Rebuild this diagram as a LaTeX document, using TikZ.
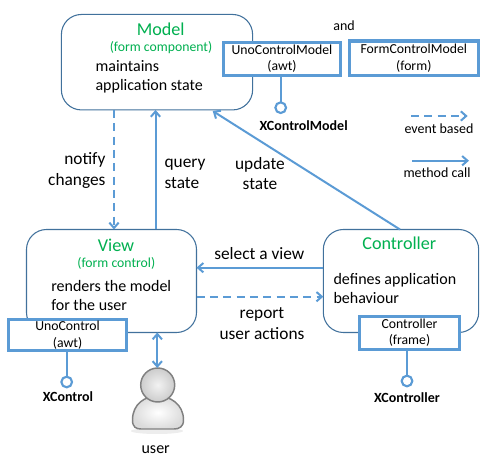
\documentclass[tikz,border=0pt]{standalone}
\usepackage{fontspec}
\setmainfont{Carlito}
\usetikzlibrary{arrows.meta}
\definecolor{boxline}{HTML}{41719C}
\definecolor{linkblue}{HTML}{5B9BD5}
\definecolor{titlegreen}{HTML}{00B050}
\tikzset{
    part/.style={draw=boxline,line width=0.8pt,rounded corners=15pt,fill=white,outer sep=0pt},
    api/.style={draw=linkblue,line width=2.4pt,fill=white,align=center,inner sep=0pt,outer sep=0pt,
        font=\fontsize{10.3}{12.5}\selectfont},
    title/.style={text=titlegreen,font=\fontsize{13.6}{16}\selectfont,inner sep=0pt},
    subtitle/.style={text=titlegreen,font=\fontsize{10.3}{12}\selectfont,inner sep=0pt},
    body/.style={anchor=west,align=left,inner sep=0pt,font=\fontsize{12}{14.25}\selectfont},
    lbl/.style={align=center,inner sep=0pt,font=\fontsize{13}{15.6}\selectfont},
    small/.style={inner sep=0pt,font=\fontsize{10.5}{12}\selectfont},
    iface/.style={inner sep=0pt,font=\fontsize{10.5}{12}\selectfont\bfseries},
    lolly/.style={draw=linkblue,line width=1.6pt,circle,fill=white,minimum size=8pt,inner sep=0pt,outer sep=0pt},
    stem/.style={draw=linkblue,line width=1.6pt},
    call/.style={draw=linkblue,line width=1.5pt,-{Straight Barb[length=4pt,width=7pt]}},
    event/.style={call,dash pattern=on 6pt off 4pt}
}
\begin{document}
\begin{tikzpicture}[x=0.75pt,y=-0.75pt]
    \useasboundingbox (0,0) rectangle (493,466);

    \node[part,minimum width=143.4pt,minimum height=71.6pt] (model) at (157,62.2) {};
    \node[part,minimum width=127.5pt,minimum height=77.25pt] (view) at (111.5,281) {};
    \node[part,minimum width=116.5pt,minimum height=77.25pt] (controller) at (401,281) {};

    \node[api,minimum width=87.75pt,minimum height=25pt] (unomodel) at (282,58.8) {UnoControlModel\\(awt)};
    \node[api,minimum width=96.5pt,minimum height=25.6pt] (formmodel) at (413.8,58.1) {FormControlModel\\(form)};
    \node[api,minimum width=88.3pt,minimum height=23.7pt] (unocontrol) at (67.6,335) {UnoControl\\(awt)};
    \node[api,minimum width=74.5pt,minimum height=24.5pt] (framectrl) at (409.5,332.8) {Controller\\(frame)};

    \node[title] (modeltitle) at (160.7,29.3) {Model};
    \node[subtitle] (modelsub) at (161,47.7) {(form component)};
    \node[body] (modeltext) at (95.3,77) {maintains\\application state};
    \node[title] (viewtitle) at (116,245.7) {View};
    \node[subtitle] (viewsub) at (116.3,263.7) {(form control)};
    \node[body] (viewtext) at (51,295.6) {renders the model\\for the user};
    \node[title] (ctrltitle) at (399.3,243.3) {Controller};
    \node[body] (ctrltext) at (333.3,288.8) {defines application\\behaviour};

    \node[small] (and) at (344,25.7) {and};

    % lollipops
    \node[lolly] (xmodel) at (280.7,107.7) {};
    \node[lolly] (xcontrol) at (66.7,382) {};
    \node[lolly] (xctrl) at (407,381) {};
    \draw[stem] (unomodel.south -| xmodel) -- (xmodel);
    \draw[stem] (unocontrol.south -| xcontrol) -- (xcontrol);
    \draw[stem] (framectrl.south -| xctrl) -- (xctrl);
    \node[iface] (xmodellabel) at (303.7,125.7) {XControlModel};
    \node[iface] (xcontrollabel) at (68,396.3) {XControl};
    \node[iface] (xctrllabel) at (407,398) {XController};

    % links
    \coordinate (notifyx) at (114,0);
    \coordinate (queryx) at (155.5,0);
    \coordinate (updatefrom) at (400,0);
    \coordinate (updateto) at (211,0);
    \coordinate (selecty) at (0,267.7);
    \coordinate (reporty) at (0,296.7);
    \coordinate (userx) at (157.3,0);
    \draw[event] (model.south -| notifyx) -- (view.north -| notifyx);
    \draw[call] (view.north -| queryx) -- (model.south -| queryx);
    \draw[call,shorten >=1.5pt] (controller.north -| updatefrom) -- (model.south -| updateto);
    \draw[call] (controller.west |- selecty) -- (view.east |- selecty);
    \draw[event] (view.east |- reporty) -- (controller.west |- reporty);

    \node[lbl,anchor=east,align=right] (notifylabel) at (105.7,170.5) {notify\\changes};
    \node[lbl,anchor=west,align=left] (querylabel) at (164.3,173.5) {query\\state};
    \node[lbl] (updatelabel) at (260,173.5) {update\\state};
    \node[lbl] (selectlabel) at (259.3,254) {select a view};
    \node[lbl] (reportlabel) at (262,323.3) {report\\user actions};

    % user
    \fill[black!7] (157,431) ellipse (26 and 3);
    \shadedraw[inner color=white,outer color=black!14,draw=black!50,line width=1.1pt]
        (132.5,420) .. controls (132.5,404) and (145,396) .. (157.5,396) .. controls (170,396) and (183.5,404) .. (183.5,420)
        .. controls (183.5,427) and (179,429) .. (174,429) -- (141,429) .. controls (136,429) and (132.5,427) .. (132.5,420) -- cycle;
    \node[circle,minimum size=25.5pt,inner sep=0pt,outer sep=0pt,draw=black!50,line width=1.1pt,
        inner color=black!5,outer color=black!20] (userhead) at (157.7,385) {};
    \draw[call,{Straight Barb[length=4pt,width=7pt]}-{Straight Barb[length=4pt,width=7pt]}]
        (view.south -| userx) -- (userhead.north -| userx);
    \node[small,font=\fontsize{12}{14}\selectfont] (userlabel) at (155.7,450) {user};

    % legend
    \coordinate (eventa) at (411,116);
    \coordinate (eventb) at (467.7,116);
    \coordinate (calla) at (412,160.7);
    \coordinate (callb) at (469,160.7);
    \draw[event] (eventa) -- (eventb);
    \draw[call] (calla) -- (callb);
    \node[small] (eventlabel) at (439,128.3) {event based};
    \node[small] (calllabel) at (437,172.3) {method call};
\end{tikzpicture}
\end{document}
